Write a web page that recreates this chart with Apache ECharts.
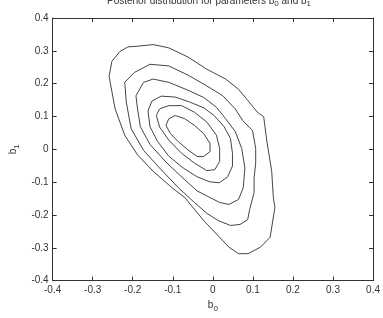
<!DOCTYPE html>
<html>
<head>
<meta charset="utf-8">
<script src="https://cdn.jsdelivr.net/npm/echarts@6/dist/echarts.min.js"></script>
<style>html,body{margin:0;padding:0;background:#fff}#c{width:383px;height:318px}</style>
</head>
<body>
<div id="c"></div>
<script>
var xTicks = [-0.4, -0.3, -0.2, -0.1, 0, 0.1, 0.2, 0.3, 0.4];
var yTicks = [-0.4, -0.3, -0.2, -0.1, 0, 0.1, 0.2, 0.3, 0.4];

var contour1 = [[-0.212,0.312],[-0.188,0.314],[-0.149,0.319],[-0.110,0.309],[-0.062,0.281],[-0.015,0.244],[0.032,0.214],[0.064,0.183],[0.088,0.148],[0.111,0.113],[0.127,0.099],[0.135,0.023],[0.147,-0.067],[0.151,-0.147],[0.155,-0.177],[0.143,-0.268],[0.119,-0.298],[0.088,-0.318],[0.064,-0.318],[0.040,-0.298],[0.009,-0.258],[-0.023,-0.217],[-0.070,-0.147],[-0.102,-0.117],[-0.149,-0.067],[-0.188,-0.017],[-0.220,0.043],[-0.244,0.123],[-0.259,0.222],[-0.252,0.268],[-0.232,0.298],[-0.212,0.312]];
var contour2 = [[-0.220,0.204],[-0.196,0.234],[-0.157,0.259],[-0.110,0.254],[-0.062,0.226],[-0.015,0.193],[0.025,0.163],[0.056,0.123],[0.075,0.087],[0.099,0.057],[0.107,0.003],[0.107,-0.042],[0.103,-0.087],[0.103,-0.132],[0.092,-0.183],[0.087,-0.214],[0.068,-0.229],[0.044,-0.232],[0.013,-0.217],[-0.015,-0.195],[-0.046,-0.162],[-0.086,-0.117],[-0.133,-0.057],[-0.173,-0.003],[-0.204,0.063],[-0.216,0.143],[-0.220,0.204]];
var contour3 = [[-0.192,0.163],[-0.173,0.204],[-0.149,0.214],[-0.110,0.204],[-0.062,0.180],[-0.023,0.158],[0.009,0.128],[0.032,0.093],[0.056,0.054],[0.072,0.003],[0.080,-0.057],[0.076,-0.117],[0.064,-0.153],[0.040,-0.168],[0.017,-0.162],[-0.015,-0.142],[-0.039,-0.127],[-0.070,-0.093],[-0.117,-0.039],[-0.157,0.015],[-0.181,0.069],[-0.188,0.123],[-0.192,0.163]];
var contour4 = [[-0.162,0.117],[-0.152,0.147],[-0.129,0.162],[-0.093,0.159],[-0.058,0.144],[-0.022,0.126],[0.004,0.102],[0.028,0.069],[0.044,0.033],[0.049,-0.012],[0.049,-0.051],[0.037,-0.084],[0.016,-0.102],[-0.008,-0.099],[-0.039,-0.084],[-0.074,-0.057],[-0.110,-0.021],[-0.138,0.024],[-0.157,0.069],[-0.162,0.117]];
var contour5 = [[-0.141,0.103],[-0.133,0.123],[-0.110,0.133],[-0.078,0.133],[-0.046,0.113],[-0.015,0.083],[0.009,0.043],[0.017,0.003],[0.017,-0.037],[0.005,-0.062],[-0.015,-0.065],[-0.046,-0.042],[-0.078,-0.012],[-0.110,0.028],[-0.133,0.068],[-0.141,0.103]];
var contour6 = [[-0.117,0.073],[-0.110,0.093],[-0.094,0.103],[-0.070,0.093],[-0.046,0.073],[-0.023,0.048],[-0.007,0.018],[-0.007,-0.007],[-0.023,-0.022],[-0.039,-0.022],[-0.062,-0.002],[-0.086,0.023],[-0.106,0.048],[-0.117,0.073]];

var contours = [contour1, contour2, contour3, contour4, contour5, contour6];

var FONT = '"Liberation Sans", Arial, sans-serif';
var chart = echarts.init(document.getElementById('c'), null, {renderer: 'canvas'});
var axisCommon = {
  type: 'value', min: -0.4, max: 0.4, interval: 0.1,
  axisLine: {show: true, onZero: false, lineStyle: {color: '#333', width: 1}},
  axisTick: {show: true, inside: true, length: 4, lineStyle: {color: '#333'}},
  splitLine: {show: false}
};
var labelStyle = {color: '#333', fontFamily: FONT, fontSize: 10};
var fmt = function (v) { var r = Math.round(v * 10) / 10; return r === 0 ? '0' : String(r); };

chart.setOption({
  animation: false,
  title: {
    text: '{a|Posterior distribution for parameters b}{s|0}{a| and b}{s|1}',
    left: 102, top: -11,
    textStyle: {fontWeight: 'normal', rich: {
      a: {fontFamily: FONT, fontSize: 10, color: '#333', fontWeight: 'normal'},
      s: {fontFamily: FONT, fontSize: 8, color: '#333', fontWeight: 'normal', verticalAlign: 'bottom', padding: [6, 0, 0, 0]}
    }}
  },
  grid: {left: 37, right: 8, top: 18, bottom: 34, containLabel: false},
  xAxis: [
    Object.assign({}, axisCommon, {position: 'bottom', data: xTicks,
      axisLabel: Object.assign({}, labelStyle, {margin: 5, formatter: fmt}),
      name: '{a|b}{s|0}', nameLocation: 'middle', nameGap: 17,
      nameTextStyle: {rich: {
        a: {fontFamily: FONT, fontSize: 10, color: '#333'},
        s: {fontFamily: FONT, fontSize: 8, color: '#333', padding: [7, 0, 0, 0]}
      }}}),
    Object.assign({}, axisCommon, {position: 'top', axisLabel: {show: false}})
  ],
  yAxis: [
    Object.assign({}, axisCommon, {position: 'left', data: yTicks,
      axisLabel: Object.assign({}, labelStyle, {margin: 4, formatter: fmt}),
      name: '{a|b}{s|1}', nameLocation: 'middle', nameGap: 22, nameRotate: 90,
      nameTextStyle: {rich: {
        a: {fontFamily: FONT, fontSize: 10, color: '#333'},
        s: {fontFamily: FONT, fontSize: 8, color: '#333', padding: [7, 0, 0, 0]}
      }}}),
    Object.assign({}, axisCommon, {position: 'right', axisLabel: {show: false}})
  ],
  series: contours.map(function (c) {
    return {type: 'line', data: c, xAxisIndex: 0, yAxisIndex: 0, symbol: 'none',
      smooth: false, lineStyle: {color: '#444', width: 1}, silent: true};
  })
});
</script>
</body>
</html>
